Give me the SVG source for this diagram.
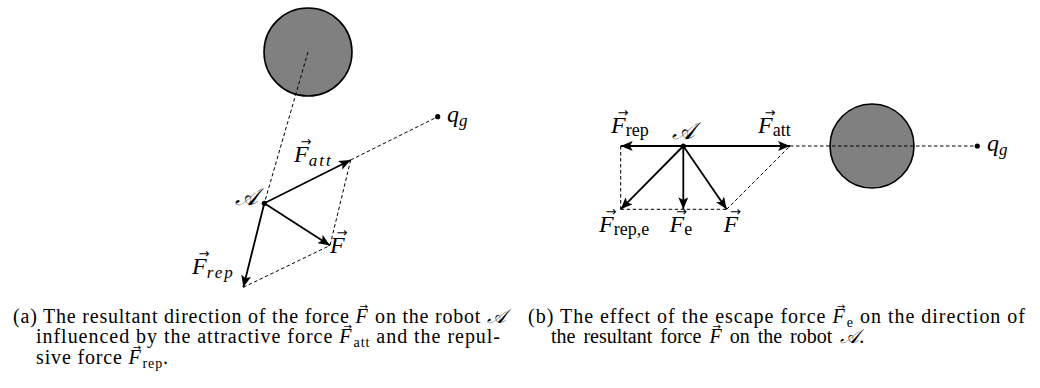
<svg xmlns="http://www.w3.org/2000/svg" width="1040" height="388" viewBox="0 0 1040 388">
<style>
.obs{fill:#808080;stroke:#000;stroke-width:1.6}
.vec{stroke:#000;stroke-width:1.8;fill:none;marker-end:url(#ah)}
.dash{stroke:#000;stroke-width:1;fill:none;stroke-dasharray:3.5,2.5}
.dot{fill:#000}
.lbl{font-family:"Liberation Serif","DejaVu Serif",serif;font-size:24px;font-style:italic;fill:#000}
.sub{font-size:17px;letter-spacing:2px}
.subr{font-size:18px;font-style:normal}
.acc{font-family:"DejaVu Sans",sans-serif;font-size:13px;fill:#000}
.cap{font-family:"Liberation Serif","DejaVu Serif",serif;font-size:20px;fill:#000}
.mi{font-style:italic}
.cs{font-size:14px}
.ca{font-family:"DejaVu Sans",sans-serif;font-size:10px;font-style:normal}
</style>
<defs>
<marker id="ah" markerUnits="userSpaceOnUse" markerWidth="13" markerHeight="10" refX="12" refY="5" orient="auto">
<path d="M0,0 L12,5 L0,10 L2.8,5 Z" fill="#000"/>
</marker>
</defs>

<!-- (a) -->
<g id="a-obstacle"><circle class="obs" cx="308" cy="52" r="44"/></g>
<g id="a-connectors">
<line class="dash" x1="308" y1="52" x2="264.3" y2="203.3"/>
<line class="dash" x1="350.7" y1="160" x2="437.7" y2="116.7"/>
<line class="dash" x1="350.7" y1="160" x2="330" y2="245.5"/>
<line class="dash" x1="243.3" y1="287.3" x2="330" y2="245.5"/>
<line class="vec" x1="264.3" y1="203.3" x2="350.7" y2="160"/>
<line class="vec" x1="264.3" y1="203.3" x2="330" y2="245.5"/>
<line class="vec" x1="264.3" y1="203.3" x2="243.3" y2="287.3"/>
</g>
<g id="a-robot"><circle class="dot" cx="264.3" cy="203.3" r="2.6"/><text class="lbl" x="235" y="205">𝒜</text></g>
<g id="a-goal"><circle class="dot" cx="437.7" cy="116.7" r="2.6"/><text class="lbl" x="447" y="122">q<tspan class="sub" dy="4">g</tspan></text></g>
<g id="a-Fatt"><text class="lbl" x="294" y="162">F<tspan class="sub" dy="4">att</tspan></text><text class="acc" x="300.5" y="146">→</text></g>
<g id="a-F"><text class="lbl" x="330" y="253">F</text><text class="acc" x="336.5" y="237">→</text></g>
<g id="a-Frep"><text class="lbl" x="192" y="274">F<tspan class="sub" dy="4">rep</tspan></text><text class="acc" x="198.5" y="258">→</text></g>

<!-- (b) -->
<g id="b-obstacle"><circle class="obs" cx="872" cy="146" r="42"/></g>
<g id="b-connectors">
<line class="dash" x1="790" y1="146" x2="977.3" y2="146"/>
<line class="dash" x1="620.7" y1="146" x2="620.7" y2="209.3"/>
<line class="dash" x1="620.7" y1="209.3" x2="726.7" y2="209.3"/>
<line class="dash" x1="726.7" y1="209.3" x2="790" y2="146"/>
<line class="vec" x1="683.3" y1="146" x2="620.7" y2="146"/>
<line class="vec" x1="683.3" y1="146" x2="790" y2="146"/>
<line class="vec" x1="683.3" y1="146" x2="620.7" y2="209.3"/>
<line class="vec" x1="683.3" y1="146" x2="683.3" y2="209.3"/>
<line class="vec" x1="683.3" y1="146" x2="726.7" y2="209.3"/>
</g>
<g id="b-robot"><circle class="dot" cx="683.3" cy="146" r="2.6"/><text class="lbl" x="672" y="139">𝒜</text></g>
<g id="b-goal"><circle class="dot" cx="977.3" cy="146" r="2.6"/><text class="lbl" x="987" y="151">q<tspan class="sub" dy="4">g</tspan></text></g>
<g id="b-Frep"><text class="lbl" x="611" y="133">F<tspan class="subr" dy="3">rep</tspan></text><text class="acc" x="617.5" y="117">→</text></g>
<g id="b-Fatt"><text class="lbl" x="758" y="133">F<tspan class="subr" dy="3">att</tspan></text><text class="acc" x="764.5" y="117">→</text></g>
<g id="b-Frepe"><text class="lbl" x="599" y="232">F<tspan class="subr" dy="3">rep,e</tspan></text><text class="acc" x="605.5" y="216">→</text></g>
<g id="b-Fe"><text class="lbl" x="669.5" y="232">F<tspan class="subr" dy="3">e</tspan></text><text class="acc" x="676" y="216">→</text></g>
<g id="b-F"><text class="lbl" x="723.5" y="232">F</text><text class="acc" x="730" y="216">→</text></g>

<!-- captions -->
<g id="captions">
<text class="cap" x="13" y="322.5" textLength="493" lengthAdjust="spacing">(a) The resultant direction of the force <tspan class="mi">F</tspan><tspan class="ca" dx="-9" dy="-13">→</tspan><tspan dx="0.7" dy="13"> on the robot </tspan><tspan class="mi">𝒜</tspan></text>
<text class="cap" x="36" y="343.3" textLength="464" lengthAdjust="spacing">influenced by the attractive force <tspan class="mi">F</tspan><tspan class="ca" dx="-9" dy="-13">→</tspan><tspan class="cs" dx="0.7" dy="17">att</tspan><tspan dy="-4"> and the repul-</tspan></text>
<text class="cap" x="36" y="364.2" textLength="132" lengthAdjust="spacing">sive force <tspan class="mi">F</tspan><tspan class="ca" dx="-9" dy="-13">→</tspan><tspan class="cs" dx="0.7" dy="17">rep</tspan><tspan dy="-4">.</tspan></text>
<text class="cap" x="528" y="322.5" textLength="497" lengthAdjust="spacing">(b) The effect of the escape force <tspan class="mi">F</tspan><tspan class="ca" dx="-9" dy="-13">→</tspan><tspan class="cs" dx="0.7" dy="17">e</tspan><tspan dy="-4"> on the direction of</tspan></text>
<text class="cap" x="551" y="343.3" word-spacing="3">the resultant force <tspan class="mi">F</tspan><tspan class="ca" dx="-9" dy="-13">→</tspan><tspan dx="0.7" dy="13"> on the robot </tspan><tspan class="mi">𝒜</tspan>.</text>
</g>
</svg>
